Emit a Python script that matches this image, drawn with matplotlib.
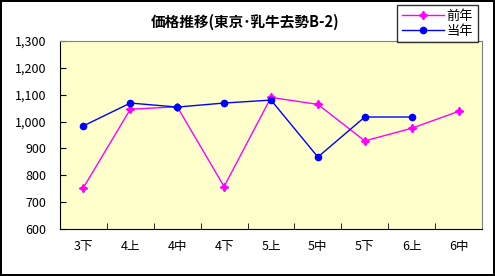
import matplotlib.pyplot as plt
import numpy as np
from matplotlib.ticker import FuncFormatter

plt.rcParams['font.family'] = ['Noto Sans CJK JP', 'DejaVu Sans']

categories = ['3下', '4上', '4中', '4下', '5上', '5中', '5下', '6上', '6中']
prev_year = [754, 1046, 1055, 758, 1090, 1064, 928, 975, 1038]
this_year = [984, 1069, 1054, 1069, 1080, 868, 1017, 1017]

fig = plt.figure(figsize=(4.95, 2.76), dpi=100)
fig.patch.set_facecolor('white')
fig.patch.set_edgecolor('black')
fig.patch.set_linewidth(1.5)

ax = fig.add_axes([60 / 495, 1 - 229 / 276, 422 / 495, 188 / 276])
ax.set_facecolor('#FFFFCC')

x = np.arange(len(categories))
ax.plot(x, prev_year, color='#FF00FF', lw=1, marker=(4, 1, 0), ms=6,
        label='前年')
ax.plot(x[:len(this_year)], this_year, color='#0000FF', lw=1, marker='o',
        ms=4.5, label='当年')

ax.set_xlim(-0.5, len(categories) - 0.5)
ax.set_ylim(600, 1300)
ax.set_yticks(range(600, 1301, 100))
ax.yaxis.set_major_formatter(FuncFormatter(lambda v, p: f'{int(v):,}'))
ax.set_xticks(x)
ax.set_xticklabels(categories)
ax.set_xticks(np.arange(0.5, len(categories) - 0.5, 1), minor=True)
ax.tick_params(axis='x', which='major', length=0, pad=8, labelsize=9)
ax.tick_params(axis='x', which='minor', direction='in', length=4)
ax.tick_params(axis='y', direction='in', length=4, pad=10, labelsize=9)

for s in ['top', 'right']:
    ax.spines[s].set_color('#808080')
for s in ['left', 'bottom']:
    ax.spines[s].set_color('black')

fig.text(245 / 495, 1 - 22 / 276, '価格推移(東京･乳牛去勢B-2)', ha='center',
         va='center', fontsize=10.5, fontweight='bold')

leg = fig.legend(loc='upper left', bbox_to_anchor=(397 / 495, 1 - 5 / 276),
                 frameon=True, fancybox=False, edgecolor='black',
                 fontsize=9.5, handlelength=3.2, borderpad=0.35,
                 labelspacing=0.15, handletextpad=0.2, borderaxespad=0)
leg.get_frame().set_linewidth(1)

fig.savefig('out.png', dpi=100)
